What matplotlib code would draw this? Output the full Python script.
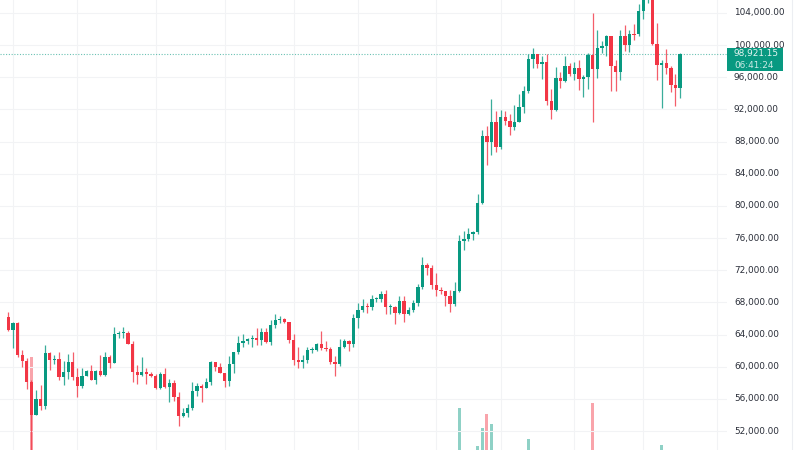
import matplotlib
matplotlib.use("Agg")
import matplotlib.pyplot as plt
import matplotlib.transforms as mtransforms
from matplotlib.patches import Rectangle
import pandas as pd

# BTC daily candles, prices in thousands USD
start_date = "2024-07-31"

opens = [66.2, 64.6, 65.4, 61.5, 60.7, 58.1, 54.0, 56.0, 55.1, 61.7,
         60.8, 60.9, 58.7, 59.4, 60.6, 58.7, 57.6, 58.9, 59.5, 58.4,
         59.5, 59.0, 61.2, 60.4, 64.1, 64.2, 64.2, 62.8, 59.4, 59.0,
         59.4, 59.1, 58.9, 57.3, 59.1, 57.5, 58.0, 56.2, 53.9, 54.2,
         54.9, 57.0, 57.6, 57.3, 58.1, 60.6, 60.0, 59.2, 58.2, 60.3,
         61.8, 62.9, 63.2, 63.4, 63.6, 63.3, 64.3, 63.1, 65.2, 65.8,
         65.9, 65.6, 63.3, 60.8, 60.6, 60.8, 62.1, 62.1, 62.8, 62.3,
         62.2, 60.6, 60.3, 62.4, 63.2, 62.8, 66.1, 67.0, 67.6, 67.4,
         68.4, 68.4, 69.0, 67.4, 67.4, 66.7, 68.2, 66.6, 67.0, 67.9,
         69.9, 72.7, 72.3, 70.2, 69.5, 69.4, 68.8, 67.8, 69.4, 75.6,
         75.9, 76.5, 76.7, 80.4, 88.7, 87.9, 90.4, 87.3, 91.1, 90.6,
         89.8, 90.5, 92.3, 94.3, 98.3, 98.9, 97.7, 97.9, 93.0, 91.9,
         95.9, 95.6, 97.4, 96.4, 97.2, 95.8, 96.0, 98.8, 97.0, 99.7,
         99.9, 101.2, 97.4, 96.7, 101.2, 100.0, 101.4, 101.4, 104.3, 106.0,
         106.1, 100.2, 97.5, 97.8, 97.2, 95.1, 94.7]

highs = [66.8, 65.6, 65.6, 62.1, 61.1, 58.3, 57.1, 57.7, 62.7, 61.8,
         61.5, 61.8, 60.7, 61.6, 61.8, 59.8, 59.8, 59.6, 60.2, 59.6,
         61.4, 61.8, 61.4, 64.9, 64.5, 65.0, 64.4, 63.2, 60.2, 61.2,
         59.9, 59.4, 59.1, 59.4, 59.8, 58.5, 58.3, 56.9, 54.8, 55.3,
         58.1, 58.0, 57.9, 58.6, 60.7, 60.6, 60.4, 59.2, 61.3, 61.8,
         63.8, 64.1, 63.6, 64.0, 64.8, 64.8, 64.8, 65.8, 66.5, 66.3,
         66.1, 65.6, 64.1, 62.4, 61.5, 62.5, 62.4, 62.9, 64.5, 63.2,
         62.5, 61.3, 63.4, 63.4, 63.3, 66.5, 67.9, 68.4, 67.9, 68.9,
         68.7, 69.4, 69.5, 67.8, 67.5, 68.8, 68.8, 67.4, 68.3, 70.3,
         73.6, 72.9, 72.7, 71.6, 69.9, 69.4, 69.5, 70.5, 76.4, 76.9,
         77.2, 76.9, 81.5, 89.5, 89.9, 93.3, 91.8, 91.9, 91.8, 91.4,
         92.6, 93.9, 94.9, 98.9, 99.6, 98.9, 98.6, 98.9, 94.6, 97.3,
         96.6, 98.7, 97.8, 97.9, 98.2, 96.3, 99.0, 104.0, 101.9, 100.5,
         101.3, 101.2, 98.2, 101.9, 102.5, 101.9, 102.6, 105.1, 107.8, 108.3,
         106.5, 102.8, 98.1, 99.5, 97.4, 96.4, 99.0]

lows = [64.5, 62.3, 61.2, 60.0, 57.2, 49.1, 54.0, 54.6, 54.7, 59.6,
        60.3, 58.3, 57.7, 58.5, 58.4, 56.2, 57.3, 58.8, 58.4, 57.8,
        58.8, 58.9, 59.8, 60.4, 63.6, 63.6, 62.8, 58.1, 57.9, 58.8,
        57.8, 58.7, 57.2, 57.2, 57.4, 55.6, 55.7, 52.6, 53.8, 53.7,
        54.6, 56.4, 55.6, 57.3, 57.7, 59.5, 59.2, 57.5, 57.6, 59.2,
        61.6, 62.4, 62.8, 62.4, 62.7, 62.7, 62.9, 62.7, 64.8, 65.4,
        65.4, 62.9, 60.2, 59.9, 59.9, 60.5, 61.7, 61.9, 62.1, 61.9,
        60.3, 58.9, 60.1, 62.3, 62.0, 62.4, 64.8, 66.8, 66.7, 67.1,
        68.0, 68.1, 66.6, 66.6, 65.3, 66.5, 65.5, 66.4, 66.8, 67.5,
        69.7, 71.4, 69.7, 68.8, 69.0, 67.5, 66.8, 67.5, 69.3, 74.5,
        75.6, 75.8, 76.5, 80.2, 85.1, 86.3, 86.7, 87.1, 90.1, 88.8,
        89.4, 90.4, 91.5, 94.1, 97.2, 97.2, 95.8, 92.6, 90.8, 91.8,
        94.7, 95.4, 96.2, 95.7, 94.4, 93.6, 94.6, 90.5, 95.9, 99.0,
        98.7, 94.3, 94.3, 95.7, 99.3, 99.2, 100.6, 101.2, 103.3, 105.3,
        100.0, 95.7, 92.2, 96.4, 94.2, 92.4, 93.4]

closes = [64.6, 65.4, 61.5, 60.7, 58.1, 54.0, 56.0, 55.1, 61.7, 60.8,
          60.9, 58.7, 59.4, 60.6, 58.7, 57.6, 58.9, 59.5, 58.4, 59.5,
          59.0, 61.2, 60.4, 64.1, 64.2, 64.2, 62.8, 59.4, 59.0, 59.4,
          59.1, 58.9, 57.3, 59.1, 57.5, 58.0, 56.2, 53.9, 54.2, 54.9,
          57.0, 57.6, 57.3, 58.1, 60.6, 60.0, 59.2, 58.2, 60.3, 61.8,
          62.9, 63.2, 63.4, 63.6, 63.3, 64.3, 63.1, 65.2, 65.8, 65.9,
          65.6, 63.3, 60.8, 60.6, 60.8, 62.1, 62.1, 62.8, 62.3, 62.2,
          60.6, 60.3, 62.4, 63.2, 62.8, 66.1, 67.0, 67.6, 67.4, 68.4,
          68.4, 69.0, 67.4, 67.4, 66.7, 68.2, 66.6, 67.0, 67.9, 69.9,
          72.7, 72.3, 70.2, 69.5, 69.4, 68.8, 67.8, 69.4, 75.6, 75.9,
          76.5, 76.7, 80.4, 88.7, 87.9, 90.4, 87.3, 91.1, 90.6, 89.8,
          90.5, 92.3, 94.3, 98.3, 98.9, 97.7, 97.9, 93.0, 91.9, 95.9,
          95.6, 97.4, 96.4, 97.2, 95.8, 96.0, 98.8, 97.0, 99.7, 99.9,
          101.2, 97.4, 96.7, 101.2, 100.0, 101.4, 101.3, 104.3, 106.0, 106.1,
          100.2, 97.5, 97.8, 97.2, 95.1, 94.7, 98.92115]

# only the tallest volume bars poke up into the visible part of the pane
vol_dates = ["2024-08-05", "2024-11-06", "2024-11-10", "2024-11-11", "2024-11-12",
             "2024-11-13", "2024-11-21", "2024-12-05", "2024-12-20"]
vol_values = [153, 102, 64, 82, 96, 86, 71, 107, 65]

grid_dates = ["2024-08-01", "2024-08-15", "2024-09-01", "2024-09-16", "2024-10-01",
              "2024-10-15", "2024-11-01", "2024-11-15", "2024-12-01", "2024-12-16",
              "2025-01-01"]
price_ticks = [52, 56, 60, 64, 68, 72, 76, 80, 84, 88, 92, 96, 100, 104]

last_price = "98,921.15"
countdown = "06:41:24"

green = "#089981"
red = "#f23645"
grid_col = "#f2f3f5"

plt.rcParams["font.family"] = ["DejaVu Sans"]

t0 = pd.Timestamp(start_date)
def day_idx(d):
    return (pd.Timestamp(d) - t0).days

fig = plt.figure(figsize=(8, 4.5), dpi=100)
fig.patch.set_facecolor("white")
ax = fig.add_axes([0, 0, 727 / 800, 1])
vax = ax.twinx()
ax.set_zorder(vax.get_zorder() + 1)
ax.patch.set_visible(False)

ax.set_xlim(-1.83, 156.2)
ax.set_ylim(49.637, 105.617)
vax.set_ylim(60, 510)

for a in (ax, vax):
    for s in a.spines.values():
        s.set_visible(False)
    a.set_xticks([])
    a.set_yticks([])

# grid
for p in price_ticks:
    ax.axhline(p, color=grid_col, lw=0.8, zorder=0)
for d in grid_dates:
    ax.axvline(day_idx(d), color=grid_col, lw=0.8, zorder=0)

# volume
for d, v in zip(vol_dates, vol_values):
    i = day_idx(d)
    col = green if closes[i] >= opens[i] else red
    vax.bar(i, v, width=0.7, color=col, alpha=0.45, linewidth=0)

# candles
for i in range(len(closes)):
    o, h, l, c = opens[i], highs[i], lows[i], closes[i]
    col = green if c >= o else red
    ax.vlines(i, l, h, color=col, lw=0.9, alpha=0.8, zorder=2)
    body = max(abs(c - o), 0.12)
    ax.bar(i, body, bottom=min(o, c), width=0.72, color=col, linewidth=0, zorder=3)

# last price line
ax.axhline(98.92115, color=green, lw=0.8, ls=(0, (1, 1.5)), alpha=0.6, zorder=1)

# price scale labels
trans = mtransforms.blended_transform_factory(fig.transFigure, ax.transData)
for p in price_ticks:
    ax.text(734 / 800, p, f"{p * 1000:,.2f}", transform=trans, ha="left", va="center",
            fontsize=6.4, color="#2a2e39", clip_on=False)

# last price box
fig.patches.append(Rectangle((727 / 800, (450 - 70.7) / 450), 56 / 800, 22.4 / 450,
                             transform=fig.transFigure, facecolor=green, edgecolor="none",
                             zorder=5))
fig.text(734 / 800, (450 - 53.5) / 450, last_price, ha="left", va="center",
         fontsize=6.4, color="white", alpha=0.9, zorder=6)
fig.text(734 / 800, (450 - 65) / 450, countdown, ha="left", va="center",
         fontsize=6.4, color="white", alpha=0.8, zorder=6)

# right border of price scale
fig.add_artist(plt.Line2D([792 / 800, 792 / 800], [0, 1], transform=fig.transFigure,
                          color="#eceef2", lw=0.8))

fig.savefig("out.png", dpi=100)
